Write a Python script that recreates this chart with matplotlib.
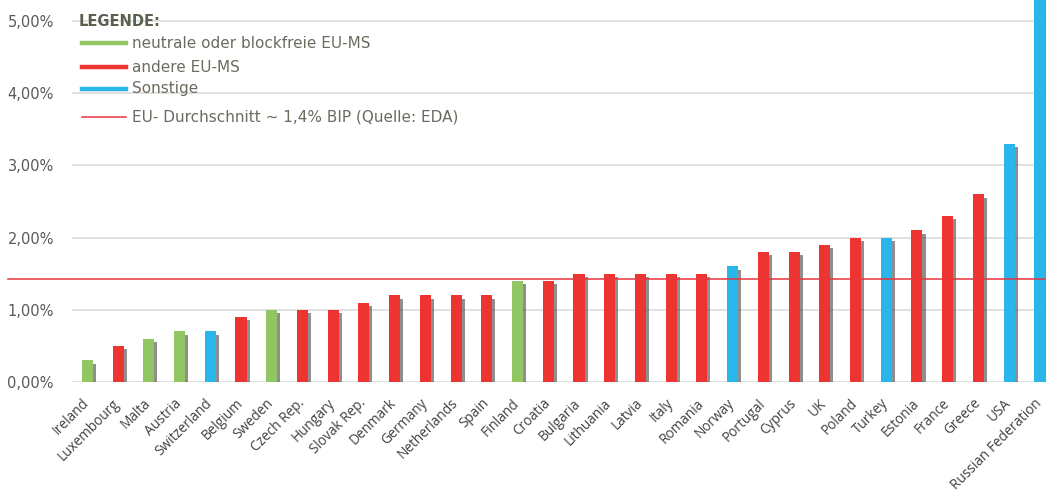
import matplotlib
matplotlib.use("Agg")
import matplotlib.pyplot as plt
import matplotlib.patheffects as pe
import matplotlib.transforms as mtransforms
from matplotlib.ticker import FuncFormatter

GREEN = "#92c663"; RED = "#ee3430"; BLUE = "#29b6ea"; AVG = "#e8343c"
GRID = "#d9d9d9"; TXT = "#6b6b60"; TICK = "#595959"

countries = ["Ireland", "Luxembourg", "Malta", "Austria", "Switzerland", "Belgium", "Sweden",
             "Czech Rep.", "Hungary", "Slovak Rep.", "Denmark", "Germany", "Netherlands", "Spain",
             "Finland", "Croatia", "Bulgaria", "Lithuania", "Latvia", "Italy", "Romania", "Norway",
             "Portugal", "Cyprus", "UK", "Poland", "Turkey", "Estonia", "France", "Greece", "USA",
             "Russian Federation"]
share = [0.3, 0.5, 0.6, 0.7, 0.7, 0.9, 1.0, 1.0, 1.0, 1.1, 1.2, 1.2, 1.2, 1.2, 1.4, 1.4, 1.5,
         1.5, 1.5, 1.5, 1.5, 1.6, 1.8, 1.8, 1.9, 2.0, 2.0, 2.1, 2.3, 2.6, 3.3, 5.4]
# n = neutral/non-aligned EU, e = other EU, s = others
group = ["n", "e", "n", "n", "s", "e", "n", "e", "e", "e", "e", "e", "e", "e", "n", "e", "e",
         "e", "e", "e", "e", "s", "e", "e", "e", "e", "s", "e", "e", "e", "s", "s"]
eu_avg = 1.43
cmap = {"n": GREEN, "e": RED, "s": BLUE}

fig = plt.figure(figsize=(10.46, 4.94), dpi=100)
ax = fig.add_axes([72 / 1046, 112 / 494, 974 / 1046, 382 / 494])

x = list(range(len(countries)))
bars = ax.bar(x, share, width=0.36, color=[cmap[g] for g in group], zorder=3)
for b in bars:
    b.set_path_effects([pe.SimplePatchShadow(offset=(2.2, -2.4), shadow_rgbFace="#444444", alpha=0.6),
                        pe.Normal()])

ax.set_xlim(-0.5, 31.2)
ax.set_ylim(0, 5.29)
ax.set_yticks([0, 1, 2, 3, 4, 5])
ax.yaxis.set_major_formatter(FuncFormatter(lambda v, p: f"{v:.2f}%".replace(".", ",")))
ax.grid(axis="y", color=GRID, lw=1.1, zorder=0)
for s in ax.spines.values():
    s.set_visible(False)
ax.tick_params(length=0)
ax.tick_params(axis="y", labelsize=10.5, labelcolor=TICK, pad=13)
ax.set_xticks(x)
ax.set_xticklabels(countries, rotation=45, ha="right", rotation_mode="anchor",
                   fontsize=9.8, color="#404040", family="Open Sans")
ax.tick_params(axis="x", pad=10)
shift = mtransforms.ScaledTranslation(-4 / 72, 0, fig.dpi_scale_trans)
for lab in ax.get_xticklabels():
    lab.set_transform(lab.get_transform() + shift)
ax.axhline(eu_avg, xmin=-0.066, xmax=1, color=AVG, lw=1.1, clip_on=False, zorder=4)

# legend drawn by hand in figure pixels
def fx(px):
    return px / 1046

def fy(py):
    return 1 - py / 494

fig.text(fx(79), fy(21), "LEGENDE:", fontsize=10.5, fontweight="bold", color="#5a6050",
         va="center", ha="left")
items = [(43, GREEN, 3.2, "neutrale oder blockfreie EU-MS"),
         (67, RED, 3.2, "andere EU-MS"),
         (89, BLUE, 3.2, "Sonstige"),
         (117, AVG, 1.1, "EU- Durchschnitt ~ 1,4% BIP (Quelle: EDA)")]
for py, c, lw, lab in items:
    fig.add_artist(plt.Line2D([fx(82), fx(126)], [fy(py), fy(py)], color=c, lw=lw))
    fig.text(fx(132), fy(py), lab, fontsize=11, color=TXT, va="center", ha="left")

fig.savefig("out.png", dpi=100)
